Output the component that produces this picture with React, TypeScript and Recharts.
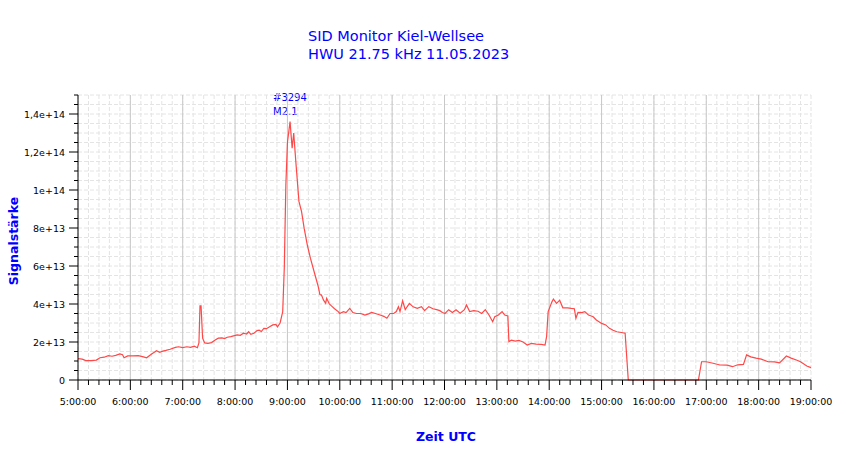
import { LineChart, Line, XAxis, YAxis, CartesianGrid, ReferenceLine } from "recharts";

// UTC time in decimal hours
const hours = [
  5.0, 5.08, 5.15, 5.25, 5.35, 5.42, 5.5, 5.58, 5.65, 5.72, 5.8, 5.85, 5.88, 5.95,
  6.05, 6.15, 6.25, 6.31, 6.4, 6.5, 6.56, 6.62, 6.68, 6.76, 6.86, 6.92,
  7.0, 7.08, 7.15, 7.22, 7.28, 7.31, 7.33, 7.35, 7.38, 7.42, 7.48, 7.55, 7.62, 7.68, 7.75, 7.8, 7.85, 7.92, 7.97,
  8.04, 8.1, 8.16, 8.22, 8.26, 8.3, 8.36, 8.42, 8.46, 8.5, 8.55, 8.6, 8.66, 8.72, 8.78, 8.81, 8.86, 8.91, 8.94, 8.97,
  9.0, 9.05, 9.09, 9.12, 9.16, 9.22, 9.27, 9.32, 9.38, 9.44, 9.53, 9.59, 9.62, 9.65, 9.69, 9.73, 9.75, 9.8, 9.84, 9.9, 9.97,
  10.0, 10.07, 10.12, 10.19, 10.25, 10.32, 10.4, 10.48, 10.55, 10.61, 10.68, 10.77, 10.84, 10.9, 10.96,
  11.03, 11.08, 11.12, 11.15, 11.2, 11.25, 11.33, 11.4, 11.48, 11.56, 11.62, 11.7, 11.78, 11.85, 11.91, 11.96,
  12.01, 12.08, 12.15, 12.22, 12.3, 12.38, 12.42, 12.48, 12.56, 12.64, 12.71, 12.78, 12.85, 12.92, 12.96,
  13.03, 13.1, 13.15, 13.21, 13.23, 13.28, 13.35, 13.42, 13.5, 13.58, 13.66, 13.75, 13.85, 13.92, 13.95, 13.98,
  14.05, 14.08, 14.14, 14.2, 14.26, 14.35, 14.42, 14.48, 14.51, 14.55, 14.62, 14.68, 14.75, 14.84, 14.9,
  15.0, 15.08, 15.15, 15.22, 15.29, 15.38, 15.45, 15.51, 16.85, 16.91,
  17.0, 17.13, 17.26, 17.4, 17.5, 17.6, 17.71, 17.77, 17.85, 17.95,
  18.05, 18.18, 18.3, 18.4, 18.53, 18.62, 18.72, 18.8, 18.92, 19.0,
];

// signal strength in units of 1e13
const signal = [
  1.12, 1.1, 1.02, 1.02, 1.05, 1.17, 1.2, 1.28, 1.25, 1.3, 1.37, 1.33, 1.17, 1.27,
  1.27, 1.28, 1.22, 1.17, 1.35, 1.54, 1.46, 1.52, 1.56, 1.62, 1.72, 1.75,
  1.7, 1.75, 1.72, 1.78, 1.7, 1.95, 3.9, 3.9, 2.2, 1.95, 1.93, 1.97, 2.1, 2.2, 2.22, 2.18, 2.25, 2.28, 2.32,
  2.37, 2.35, 2.46, 2.42, 2.54, 2.4, 2.46, 2.6, 2.62, 2.55, 2.72, 2.7, 2.8, 2.9, 2.93, 2.8, 3.0, 3.6, 5.9, 10.26,
  12.5, 13.6, 12.2, 13.0, 11.5, 9.4, 8.86, 7.98, 7.1, 6.4, 5.5, 4.9, 4.5, 4.47, 4.2, 4.04, 4.3, 4.0, 3.9, 3.75, 3.6,
  3.5, 3.6, 3.55, 3.77, 3.55, 3.5, 3.5, 3.42, 3.48, 3.56, 3.5, 3.42, 3.35, 3.25, 3.5,
  3.5, 3.6, 3.86, 3.6, 4.17, 3.7, 4.03, 3.85, 3.77, 3.86, 3.65, 3.86, 3.75, 3.7, 3.65, 3.55,
  3.5, 3.7, 3.55, 3.7, 3.52, 3.7, 3.95, 3.6, 3.65, 3.62, 3.5, 3.7, 3.42, 3.07, 3.33,
  3.42, 3.6, 3.42, 3.37, 2.02, 2.1, 2.05, 2.08, 2.0, 1.84, 1.93, 1.89, 1.87, 1.84, 2.28, 3.6,
  4.1, 4.26, 4.03, 4.2, 3.8, 3.8, 3.77, 3.75, 3.25, 3.56, 3.55, 3.6, 3.42, 3.33, 3.16,
  2.98, 2.9, 2.72, 2.62, 2.54, 2.5, 2.46, 0, 0, 0.96,
  0.96, 0.88, 0.79, 0.78, 0.7, 0.8, 0.82, 1.32, 1.22, 1.15,
  1.1, 0.96, 0.95, 0.9, 1.26, 1.15, 1.05, 0.96, 0.74, 0.65,
];

const hourLines = [6, 7, 8, 9, 10, 11, 12, 13, 14, 15, 16, 17, 18];
const flareLabels = ["#3294", "M2.1"];

const data = hours.map((t, i) => ({ t, v: signal[i] * 1e13 }));

// minor ticks every 12 minutes, labelled on the hour
const xTicks = Array.from({ length: 71 }, (_, i) => 5 + i * 0.2);
// minor ticks every 0.5e13, labelled every 2e13
const yTicks = Array.from({ length: 31 }, (_, i) => i * 0.5e13);

const BLUE = "#0000ff";
const FONT = "'DejaVu Sans', Verdana, sans-serif";

const isMajorX = (v: number) => Math.abs(v - Math.round(v)) < 1e-6;
const isMajorY = (v: number) => Math.abs(v / 2e13 - Math.round(v / 2e13)) < 1e-6;

const fmtY = (v: number) => {
  if (v === 0) return "0";
  const exp = Math.floor(Math.log10(v) + 1e-9);
  const m = Math.round((v / Math.pow(10, exp)) * 10) / 10;
  return `${String(m).replace(".", ",")}e+${exp}`;
};

const XTick = (props: any) => {
  const { x, y, payload } = props;
  const major = isMajorX(payload.value);
  const h = Math.round(payload.value);
  return (
    <g>
      <line x1={x} x2={x} y1={y} y2={y + (major ? 10 : 5)} stroke="#000" />
      {major && (
        <text x={x} y={y + 25} textAnchor="middle" fontSize={9.5} fontFamily={FONT} fill="#000">
          {`${h}:00:00`}
        </text>
      )}
    </g>
  );
};

const YTick = (props: any) => {
  const { x, y, payload } = props;
  const major = isMajorY(payload.value);
  return (
    <g>
      <line x1={x} x2={x - (major ? 9 : 4)} y1={y} y2={y} stroke="#000" />
      {major && (
        <text x={x - 13} y={y + 3.5} textAnchor="end" fontSize={9.5} fontFamily={FONT} fill="#000">
          {fmtY(payload.value)}
        </text>
      )}
    </g>
  );
};

export default function App() {
  return (
    <div style={{ position: "absolute", left: 0, top: 0, width: 850, height: 459, background: "#fff" }}>
      <div style={{ position: "absolute", left: 308, top: 27, color: BLUE, fontFamily: FONT, fontSize: 14.5, lineHeight: "18px", whiteSpace: "nowrap" }}>
        <div>SID Monitor Kiel-Wellsee</div>
        <div>HWU 21.75 kHz 11.05.2023</div>
      </div>
      <div style={{ position: "absolute", left: 273, top: 91, color: BLUE, fontFamily: FONT, fontSize: 10, lineHeight: "14px", whiteSpace: "nowrap" }}>
        {flareLabels.map((s) => (
          <div key={s}>{s}</div>
        ))}
      </div>
      <div style={{ position: "absolute", left: 446, top: 436, transform: "translate(-50%, -50%)", color: BLUE, fontFamily: FONT, fontSize: 12.5, fontWeight: "bold", whiteSpace: "nowrap" }}>
        Zeit UTC
      </div>
      <div style={{ position: "absolute", left: 13, top: 241, transform: "translate(-50%, -50%) rotate(-90deg)", color: BLUE, fontFamily: FONT, fontSize: 12.5, fontWeight: "bold", whiteSpace: "nowrap" }}>
        Signalstärke
      </div>
      <LineChart width={850} height={459} data={data} margin={{ top: 95, right: 39, bottom: 49, left: 18 }}>
        <CartesianGrid stroke="#e4e4e4" strokeDasharray="4 2" />
        {hourLines.map((h) => (
          <ReferenceLine key={h} x={h} stroke="#c8c8c8" strokeWidth={1} />
        ))}
        <XAxis
          dataKey="t"
          type="number"
          domain={[5, 19]}
          ticks={xTicks}
          interval={0}
          height={30}
          tickSize={0}
          tickMargin={0}
          tick={<XTick />}
          axisLine={{ stroke: "#000" }}
          tickLine={false}
        />
        <YAxis
          type="number"
          domain={[0, 1.5e14]}
          ticks={yTicks}
          interval={0}
          width={60}
          tickSize={0}
          tickMargin={0}
          tick={<YTick />}
          axisLine={{ stroke: "#000" }}
          tickLine={false}
        />
        <Line
          dataKey="v"
          type="linear"
          stroke="#ff4848"
          strokeWidth={1.2}
          dot={false}
          isAnimationActive={false}
        />
      </LineChart>
    </div>
  );
}
